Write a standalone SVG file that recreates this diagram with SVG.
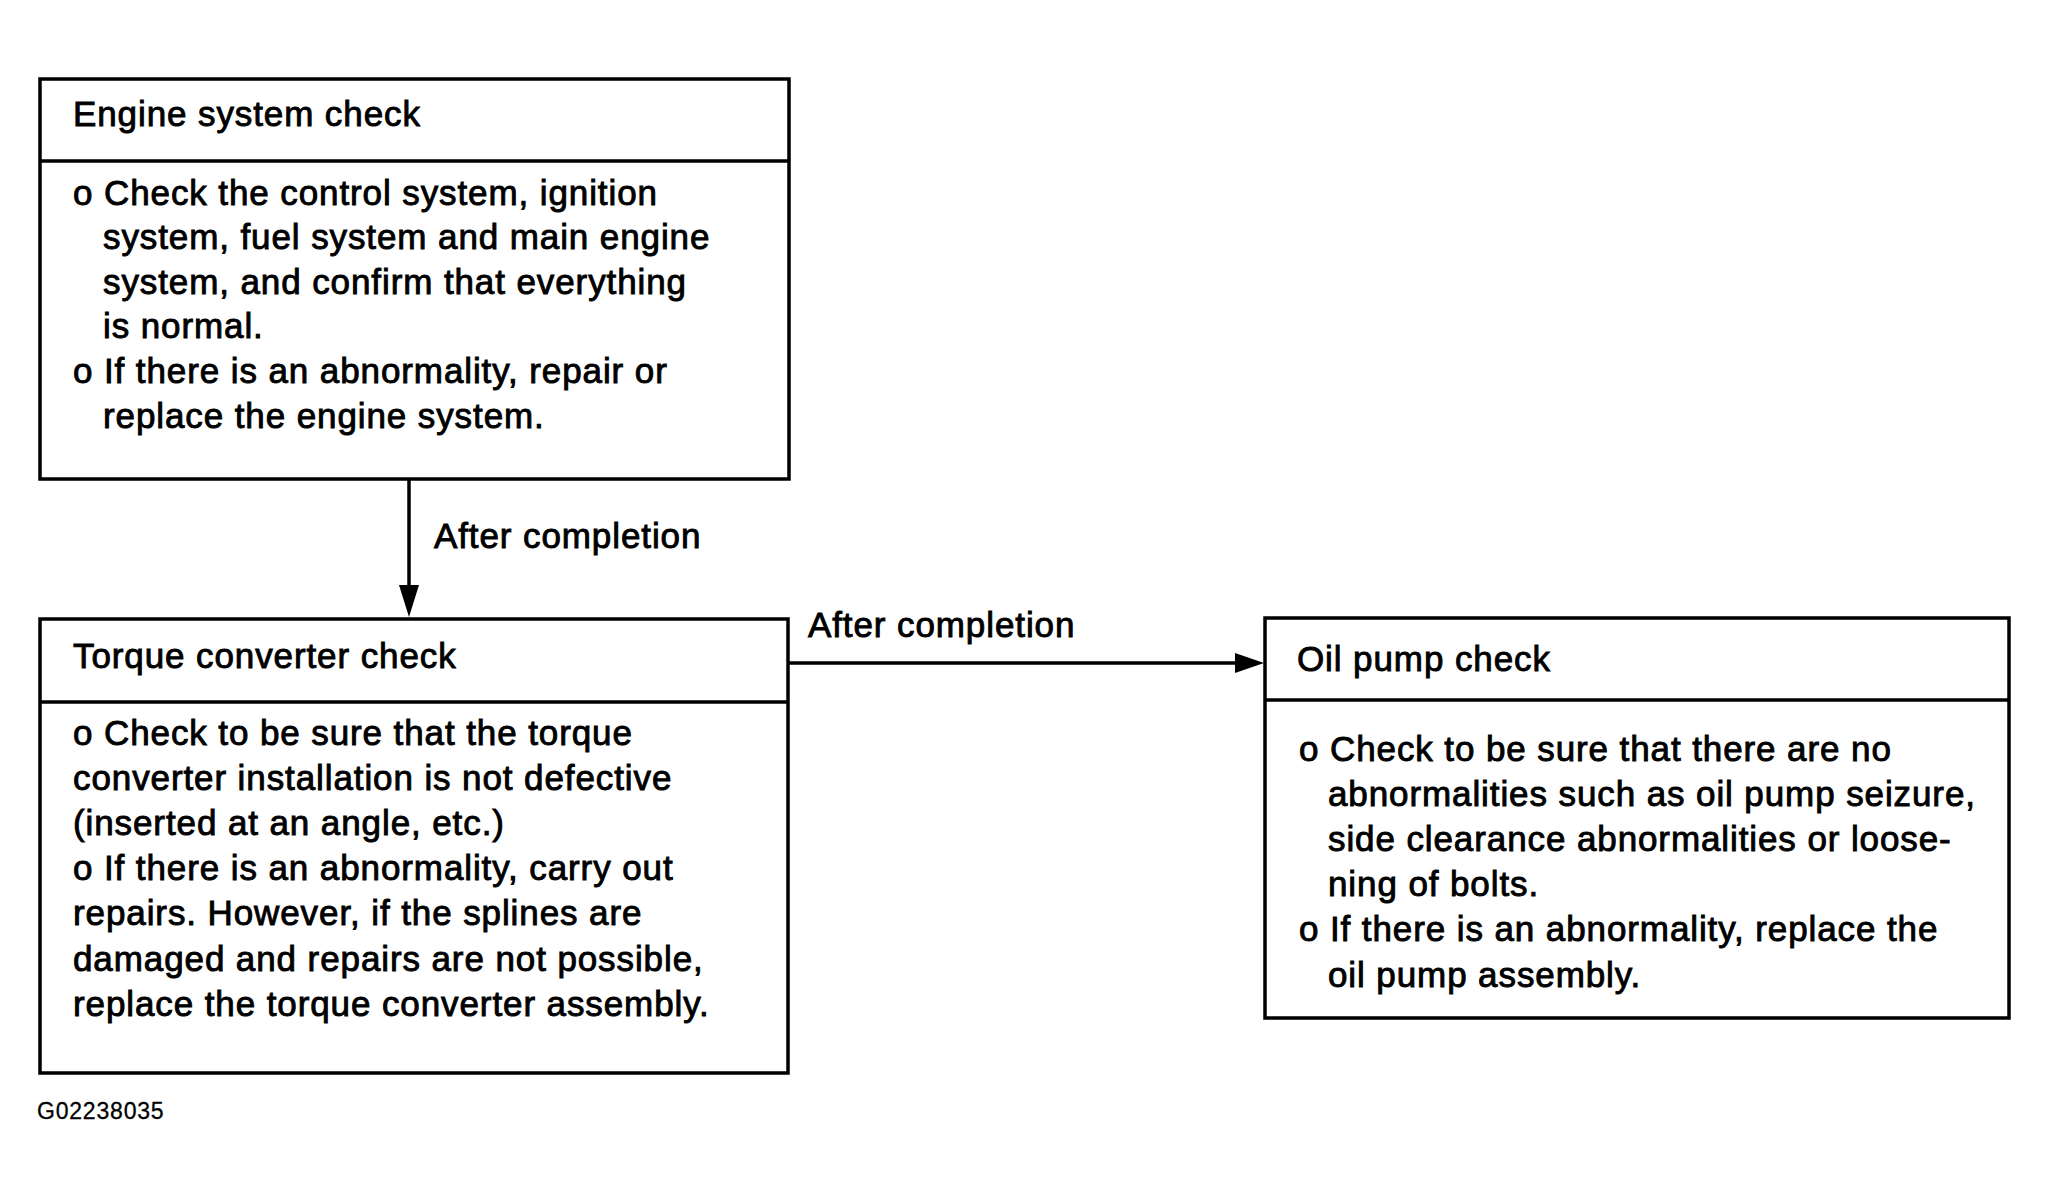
<svg xmlns="http://www.w3.org/2000/svg" width="2047" height="1195" viewBox="0 0 2047 1195">
<style>
.box{fill:#fff;stroke:#000;stroke-width:3.5}
.div{stroke:#000;stroke-width:3.5}
.t{font-family:"Liberation Sans",Arial,sans-serif;font-size:35px;letter-spacing:0.9px;fill:#000;stroke:#000;stroke-width:0.9}
.code{font-family:"Liberation Sans",Arial,sans-serif;font-size:23px;letter-spacing:0.8px;fill:#000;stroke:#000;stroke-width:0.3}
.conn{stroke:#000;stroke-width:3.5;fill:none}
</style>
<rect width="2047" height="1195" fill="#fff"/>
<g id="engine-system-check">
<rect class="box" x="40" y="79" width="749" height="400"/>
<line class="div" x1="40" y1="161" x2="789" y2="161"/>
<text class="t" x="73" y="126">Engine system check</text>
<text class="t" x="73" y="205">o Check the control system, ignition</text>
<text class="t" x="103" y="249">system, fuel system and main engine</text>
<text class="t" x="103" y="294">system, and confirm that everything</text>
<text class="t" x="103" y="338">is normal.</text>
<text class="t" x="73" y="383">o If there is an abnormality, repair or</text>
<text class="t" x="103" y="428">replace the engine system.</text>
</g>
<g id="torque-converter-check">
<rect class="box" x="40" y="619" width="748" height="454"/>
<line class="div" x1="40" y1="702" x2="788" y2="702"/>
<text class="t" x="73" y="668">Torque converter check</text>
<text class="t" x="73" y="745">o Check to be sure that the torque</text>
<text class="t" x="73" y="790">converter installation is not defective</text>
<text class="t" x="73" y="835">(inserted at an angle, etc.)</text>
<text class="t" x="73" y="880">o If there is an abnormality, carry out</text>
<text class="t" x="73" y="925">repairs. However, if the splines are</text>
<text class="t" x="73" y="971">damaged and repairs are not possible,</text>
<text class="t" x="73" y="1016">replace the torque converter assembly.</text>
</g>
<g id="oil-pump-check">
<rect class="box" x="1265" y="618" width="744" height="400"/>
<line class="div" x1="1265" y1="700" x2="2009" y2="700"/>
<text class="t" x="1297" y="671">Oil pump check</text>
<text class="t" x="1299" y="761">o Check to be sure that there are no</text>
<text class="t" x="1328" y="806">abnormalities such as oil pump seizure,</text>
<text class="t" x="1328" y="851">side clearance abnormalities or loose-</text>
<text class="t" x="1328" y="896">ning of bolts.</text>
<text class="t" x="1299" y="941">o If there is an abnormality, replace the</text>
<text class="t" x="1328" y="987">oil pump assembly.</text>
</g>
<g id="connectors">
<line class="conn" x1="409" y1="479" x2="409" y2="590"/>
<polygon points="399,585 419,585 409,617" fill="#000"/>
<text class="t" x="434" y="548">After completion</text>
<line class="conn" x1="788" y1="663" x2="1238" y2="663"/>
<polygon points="1235,653 1235,673 1264,663" fill="#000"/>
<text class="t" x="808" y="637">After completion</text>
</g>
<text class="code" x="37" y="1119">G02238035</text>
</svg>
